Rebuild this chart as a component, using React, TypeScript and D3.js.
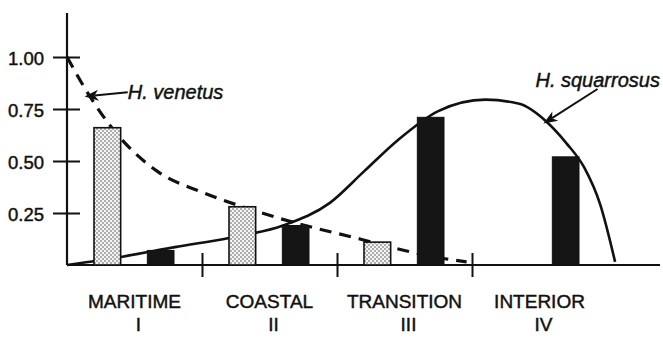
import { useEffect, useRef } from 'react';
import * as d3 from 'd3';

// zones along the gradient
const zones = ['MARITIME', 'COASTAL', 'TRANSITION', 'INTERIOR'];
const numerals = ['I', 'II', 'III', 'IV'];
const species = ['venetus', 'squarrosus'];

// bar heights per zone (null = no bar)
const venetusBars = [0.66, 0.28, 0.11, null];
const squarrosusBars = [0.07, 0.19, 0.71, 0.52];

const yTicks = [0.25, 0.5, 0.75, 1.0];

// fitted curves, x in zone units (0..4)
const venetusX = [0, 0.17, 0.32, 0.67, 1.0, 1.3, 1.65, 2.17, 2.5, 2.8, 2.96];
const venetusY = [1.0, 0.81, 0.67, 0.45, 0.35, 0.28, 0.21, 0.125, 0.07, 0.03, 0.015];

const squarrosusX = [0, 0.41, 0.81, 1.2, 1.6, 1.95, 2.2, 2.45, 2.75, 3.1, 3.35, 3.55, 3.7, 3.83, 3.95, 4.06];
const squarrosusY = [0, 0.04, 0.087, 0.13, 0.19, 0.3, 0.45, 0.6, 0.74, 0.795, 0.775, 0.69, 0.585, 0.47, 0.29, 0.015];

const width = 663;
const height = 340;
const font = "'Liberation Sans', Arial, Helvetica, sans-serif";

const arrow = (x1: number, y1: number, x2: number, y2: number) => {
	// line from (x1,y1) to tip (x2,y2) with a barbed head
	const a = Math.atan2(y2 - y1, x2 - x1);
	const L = 14, W = 5.5, N = 10;
	const bx = x2 - L * Math.cos(a), by = y2 - L * Math.sin(a);
	const nx = x2 - N * Math.cos(a), ny = y2 - N * Math.sin(a);
	const px = -Math.sin(a) * W, py = Math.cos(a) * W;
	return {
		line: `M${x1},${y1}L${nx},${ny}`,
		head: `M${x2},${y2}L${bx + px},${by + py}L${nx},${ny}L${bx - px},${by - py}Z`,
	};
};

export default function App() {
	const yAxisRef = useRef<SVGGElement>(null);
	const xAxisRef = useRef<SVGGElement>(null);

	const x = d3.scaleLinear().domain([0, 4]).range([67, 607]);
	const y = d3.scaleLinear().domain([0, 1]).range([265, 57]);
	const zoneScale = d3.scaleBand().domain(zones).range([67, 607]);
	const inner = d3.scaleBand().domain(species).range([27, 107]).paddingInner(0.5);

	const line = d3.line<number>()
		.x((d) => x(d))
		.curve(d3.curveMonotoneX);

	const venetusPath = line.y((d, i) => y(venetusY[i]))(venetusX);
	const squarrosusPath = line.y((d, i) => y(squarrosusY[i]))(squarrosusX);

	const vArrow = arrow(x(0.45), y(0.83), x(0.13), y(0.81));
	const sArrow = arrow(x(3.93), y(0.846), x(3.53), y(0.68));

	useEffect(() => {
		const yAxis = d3.axisLeft(y)
			.tickValues(yTicks)
			.tickFormat(d3.format('.2f'))
			.tickSize(14)
			.tickPadding(9);
		const gy = d3.select(yAxisRef.current!).call(yAxis);
		gy.select('.domain').remove();
		gy.selectAll('.tick line').attr('x1', 13).attr('stroke', '#111').attr('stroke-width', 2);
		gy.selectAll('.tick text')
			.attr('font-size', 18.5)
			.attr('font-family', font)
			.attr('fill', '#111')
			.attr('stroke', '#111')
			.attr('stroke-width', 0.45)
			.attr('dy', '0.4em');

		const xAxis = d3.axisBottom(x)
			.tickValues([1, 2, 3])
			.tickFormat(() => '')
			.tickSize(12);
		const gx = d3.select(xAxisRef.current!).call(xAxis);
		gx.select('.domain').remove();
		gx.selectAll('.tick line').attr('y1', -12).attr('stroke', '#111').attr('stroke-width', 2);
	}, []);

	return (
		<svg width={width} height={height} style={{ position: 'absolute', left: 0, top: 0, background: '#fff' }}>
			<defs>
				<pattern id="stipple" width="4" height="4" patternUnits="userSpaceOnUse">
					<rect width="4" height="4" fill="#f4f4f4" />
					<circle cx="1" cy="1" r="0.8" fill="#555" />
					<circle cx="3" cy="3" r="0.8" fill="#555" />
				</pattern>
			</defs>

			{/* axes */}
			<line x1={67} x2={67} y1={13} y2={y(0)} stroke="#111" strokeWidth={2.2} />
			<line x1={67} x2={660} y1={y(0)} y2={y(0)} stroke="#111" strokeWidth={2.2} />
			<g ref={yAxisRef} transform="translate(67,0)" />
			<g ref={xAxisRef} transform={`translate(0,${y(0)})`} />

			{/* curves */}
			<path d={venetusPath!} fill="none" stroke="#111" strokeWidth={3.2} strokeDasharray="12,8" />
			<path d={squarrosusPath!} fill="none" stroke="#111" strokeWidth={2.6} />

			{/* bars */}
			{zones.map((z, i) => {
				const x0 = zoneScale(z)!;
				const bw = inner.bandwidth();
				const v = venetusBars[i];
				const s = squarrosusBars[i];
				return (
					<g key={z}>
						{v != null && (
							<rect x={x0 + inner('venetus')!} y={y(v)} width={bw} height={y(0) - y(v)}
								fill="url(#stipple)" stroke="#111" strokeWidth={1.6} />
						)}
						{s != null && (
							<rect x={x0 + inner('squarrosus')!} y={y(s)} width={bw} height={y(0) - y(s)}
								fill="#151515" stroke="#111" strokeWidth={1} />
						)}
					</g>
				);
			})}

			{/* annotations */}
			<g fontFamily={font} fontStyle="italic" fontSize={20} fill="#111" stroke="#111" strokeWidth={0.45}>
				<text x={x(0.45)} y={y(0.8)}>H. venetus</text>
				<text x={x(3.47)} y={y(0.856)}>H. squarrosus</text>
			</g>
			<path d={vArrow.line} stroke="#111" strokeWidth={2} fill="none" />
			<path d={vArrow.head} fill="#111" />
			<path d={sArrow.line} stroke="#111" strokeWidth={2} fill="none" />
			<path d={sArrow.head} fill="#111" />

			{/* zone labels */}
			{zones.map((z, i) => (
				<g key={z} fontFamily={font} fill="#111" stroke="#111" strokeWidth={0.45} textAnchor="middle" fontSize={19}>
					<text x={zoneScale(z)! + zoneScale.bandwidth() / 2} y={308}>{z}</text>
					<text x={zoneScale(z)! + zoneScale.bandwidth() / 2 + 4} y={331}>{numerals[i]}</text>
				</g>
			))}
		</svg>
	);
}
